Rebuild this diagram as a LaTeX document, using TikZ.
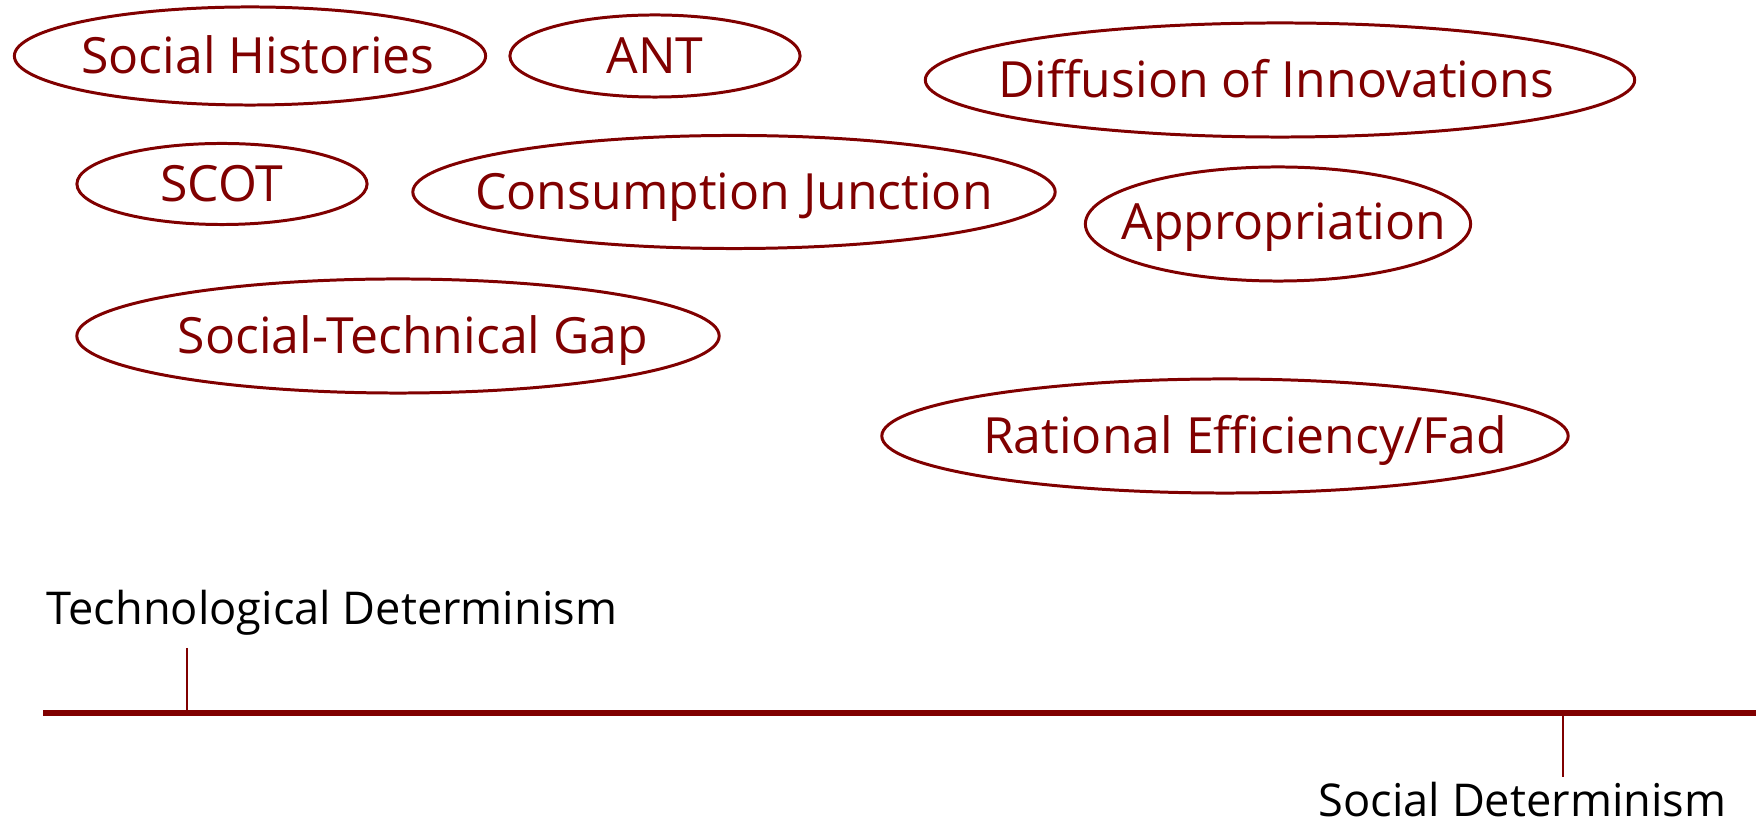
\documentclass[tikz,border=0pt]{standalone}
\usepackage{fontspec}
\setmainfont{Open Sans}
\usetikzlibrary{calc}
\definecolor{maroon}{HTML}{800000}
\tikzset{
  thy/.style   = {inner sep=0pt, text height=10.1pt, text depth=0pt,
                  font=\fontsize{14.2}{16}\selectfont, text=maroon},
  ring/.style  = {draw=maroon, line width=0.85pt},
  axis/.style  = {draw=maroon, line width=1.7pt},
  tick/.style  = {draw=maroon, line width=0.6pt},
  pole/.style  = {inner sep=0pt, font=\fontsize{12.85}{15}\selectfont, text=black}
}

\begin{document}
\begin{tikzpicture}[x=0.01cm, y=-0.01cm]
\useasboundingbox (0,0) rectangle (1756,825);
%% ===== theories =====
\node[thy] (shist) at (258,56) {Social Histories};
\draw[ring] (250,56) ellipse [x radius=2.355cm, y radius=0.49cm];
\node[thy] (ant) at (655,56) {ANT};
\draw[ring] (ant.center) ellipse [x radius=1.45cm, y radius=0.41cm];
\node[thy] (scot) at (222,184) {SCOT};
\draw[ring] (scot.center) ellipse [x radius=1.45cm, y radius=0.405cm];
\node[thy] (cjunc) at (734,192) {Consumption Junction};
\draw[ring] (cjunc.center) ellipse [x radius=3.21cm, y radius=0.565cm];
\node[thy] (stgap) at (413,336) {Social-Technical Gap};
\draw[ring] (398,336) ellipse [x radius=3.21cm, y radius=0.57cm];
\node[thy] (diffu) at (1276,80) {Diffusion of Innovations};
\draw[ring] (1280,80) ellipse [x radius=3.545cm, y radius=0.57cm];
\node[thy] (approp) at (1284,222) {Appropriation};
\draw[ring] (1278,224) ellipse [x radius=1.925cm, y radius=0.57cm];
\node[thy] (ratio) at (1245,436) {Rational Efficiency/Fad};
\draw[ring] (1225,436) ellipse [x radius=3.43cm, y radius=0.57cm];
%% ===== axis =====
\coordinate (axL) at (43,713);
\coordinate (axR) at (1756,713);
\draw[axis] (axL) -- (axR);
% technological end
\node[pole, anchor=base west] (tdet) at (46,625) {Technological Determinism};
\coordinate (tt) at (187,648);
\draw[tick] (tt) -- (tt |- axL);
% social end
\node[pole, anchor=base west] (sdet) at (1318,817) {Social Determinism};
\coordinate (st) at (1563,777);
\draw[tick] (st |- axL) -- (st);
\end{tikzpicture}
\end{document}
